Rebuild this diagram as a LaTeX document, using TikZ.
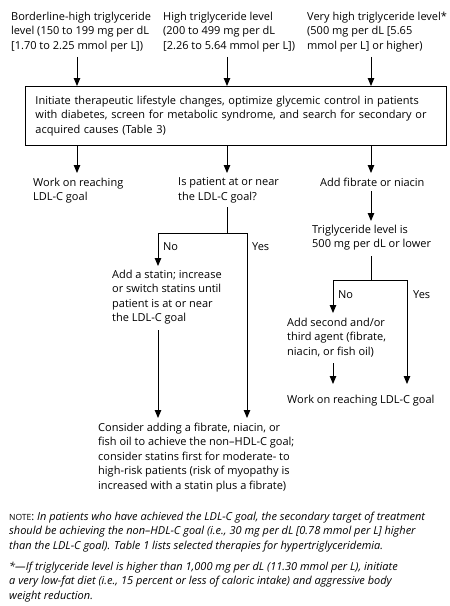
\documentclass[tikz,border=0pt]{standalone}
\usepackage{fontspec}
\setmainfont{Open Sans}
\usetikzlibrary{arrows.meta}

\begin{document}
\begin{tikzpicture}[x=1pt,y=-1pt,
		txt/.style={anchor=north west,inner sep=0pt,align=left,font=\fontsize{11}{14.5}\selectfont},
		lbl/.style={anchor=north west,inner sep=0pt,font=\fontsize{11}{14.5}\selectfont},
		arr/.style={line width=0.9pt,-{Triangle[length=8pt,width=6.5pt]}},
		ln/.style={line width=0.9pt}]
				\useasboundingbox (0,0) rectangle (450,606);
				
				\coordinate (C1) at (77,0);
				\coordinate (C2) at (227,0);
				\coordinate (C3) at (371,0);
				\coordinate (L1) at (158,233);
				\coordinate (L2) at (247,233);
				\coordinate (R1) at (333,280);
				\coordinate (R2) at (407,280);
				
				\node (bord) at (11,11.5) [txt] {Borderline-high triglyceride\\level (150 to 199 mg per dL\\{[}1.70 to 2.25 mmol per L])};
				\node (high) at (163,11.5) [txt] {High triglyceride level\\(200 to 499 mg per dL\\{[}2.26 to 5.64 mmol per L])};
				\node (vhigh) at (307,11.5) [txt] {Very high triglyceride level*\\(500 mg per dL [5.65\\mmol per L] or higher)};
				
				\node (init) at (25,86) [draw,line width=0.9pt,anchor=north west,minimum width=421pt,minimum height=59pt,inner xsep=10pt,inner ysep=0pt,text width=401pt,align=left,font=\fontsize{11}{14.5}\selectfont] {Initiate therapeutic lifestyle changes, optimize glycemic control in patients\\with diabetes, screen for metabolic syndrome, and search for secondary or\\acquired causes (Table 3)};
				
				\node (work1) at (33,177.5) [txt] {Work on reaching\\LDL-C goal};
				\node (ispat) at (178,177.5) [txt] {Is patient at or near\\the LDL-C goal?};
				\node (addfib) at (320,177.5) [txt] {Add fibrate or niacin};
				\node (trig) at (312,224.5) [txt] {Triglyceride level is\\500 mg per dL or lower};
				\node (statin) at (112,269.5) [txt] {Add a statin; increase\\or switch statins until\\patient is at or near\\the LDL-C goal};
				\node (second) at (287,317.5) [txt] {Add second and/or\\third agent (fibrate,\\niacin, or fish oil)};
				\node (work2) at (287,394.5) [txt] {Work on reaching LDL-C goal};
				\node (consid) at (98,422.5) [txt] {Consider adding a fibrate, niacin, or\\fish oil to achieve the non--HDL-C goal;\\consider statins first for moderate- to\\high-risk patients (risk of myopathy is\\increased with a statin plus a fibrate)};
				
				\node (no1) at (163,242.5) [lbl] {No};
				\node (yes1) at (252,242.5) [lbl] {Yes};
				\node (no2) at (338,290.5) [lbl] {No};
				\node (yes2) at (413,290.5) [lbl] {Yes};
				
				\node (note) at (9,511.5) [txt] {{\fontsize{8.5}{14.5}\selectfont NOTE}:\itshape{} In patients who have achieved the LDL-C goal, the secondary target of treatment\\\itshape should be achieving the non--HDL-C goal (i.e., 30 mg per dL [0.78 mmol per L] higher\\\itshape than the LDL-C goal). Table 1 lists selected therapies for hypertriglyceridemia.};
				\node (star) at (9,561.5) [txt,font=\fontsize{11}{14.5}\selectfont\itshape] {*---If triglyceride level is higher than 1,000 mg per dL (11.30 mmol per L), initiate\\a very low-fat diet (i.e., 15 percent or less of caloric intake) and aggressive body\\weight reduction.};
				
				\draw[arr] ([yshift=-5pt]bord.south -| C1) -- (init.north -| C1);
				\draw[arr] ([yshift=-5pt]high.south -| C2) -- (init.north -| C2);
				\draw[arr] ([yshift=-5pt]vhigh.south -| C3) -- (init.north -| C3);
				
				\draw[arr] (init.south -| C1) -- ([yshift=4.5pt]work1.north -| C1);
				\draw[arr] (init.south -| C2) -- ([yshift=4.5pt]ispat.north -| C2);
				\draw[arr] (init.south -| C3) -- ([yshift=4.5pt]addfib.north -| C3);
				
				\draw[ln] ([yshift=-4pt]ispat.south -| C2) -- (L1 -| C2);
				\draw[arr] (L2) -- (L1) -- ([yshift=3.5pt]statin.north -| L1);
				\draw[arr] (L2) -- ([yshift=4.5pt]consid.north -| L2);
				\draw[arr] ([yshift=-6pt]statin.south -| L1) -- ([yshift=4.5pt]consid.north -| L1);
				
				\draw[arr] ([yshift=-5pt]addfib.south -| C3) -- ([yshift=3.5pt]trig.north -| C3);
				\draw[ln] ([yshift=-6pt]trig.south -| C3) -- (R1 -| C3);
				\draw[arr] (R2) -- (R1) -- ([yshift=4.5pt]second.north -| R1);
				\draw[arr] (R2) -- ([yshift=10.5pt]work2.north -| R2);
				\draw[arr] ([yshift=-6pt]second.south -| R1) -- ([yshift=10.5pt]work2.north -| R1);
			\end{tikzpicture}
\end{document}
